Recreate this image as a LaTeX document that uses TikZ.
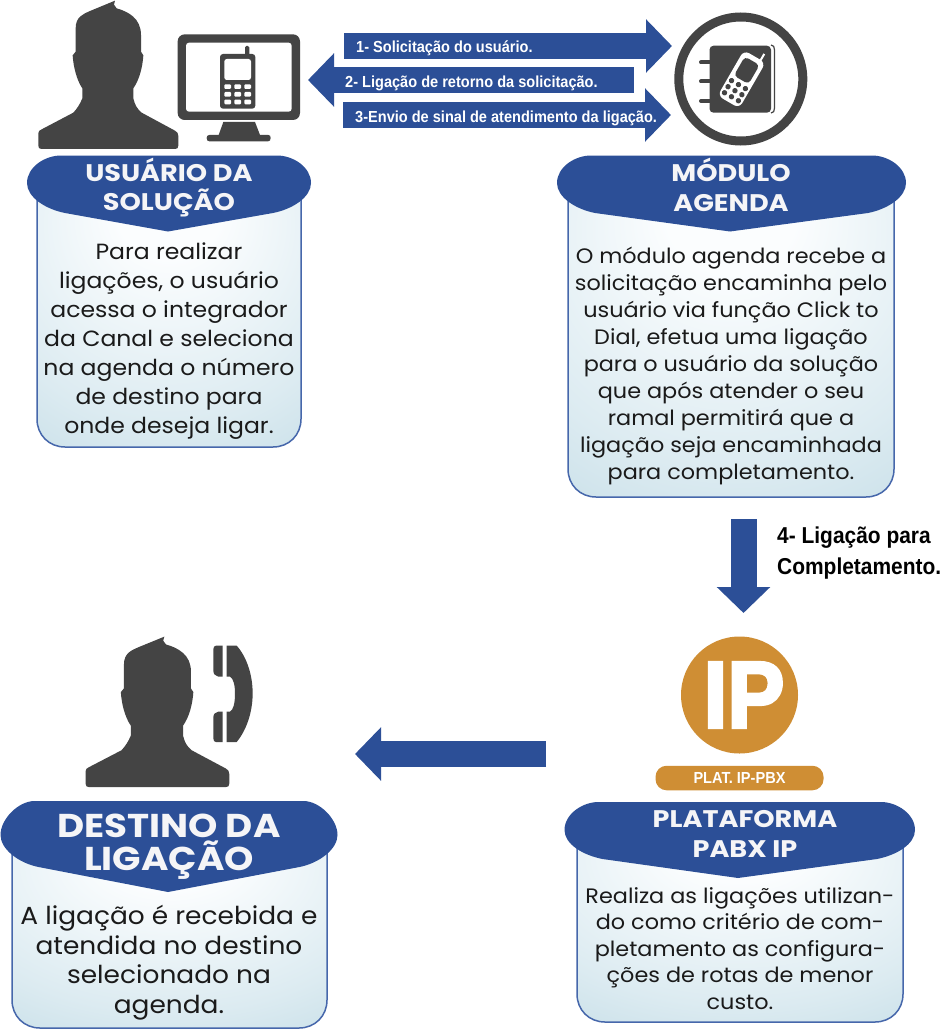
\documentclass[tikz,border=0pt]{standalone}
\usepackage{fontspec}
\usetikzlibrary{arrows.meta}
\setmainfont[FakeStretch=1.07]{Poppins}
\newfontfamily\titlefont[FakeStretch=1.13]{Poppins}
\newfontfamily\condfont[FakeStretch=0.91]{Liberation Sans Bold}
\newfontfamily\ipfont[FakeStretch=0.9,FakeBold=3]{Liberation Sans Bold}
\definecolor{hdrblue}{HTML}{2C4F97}
\definecolor{edgeblue}{HTML}{4667AB}
\definecolor{darkicon}{HTML}{444444}
\definecolor{ipgold}{HTML}{CF8E34}
\definecolor{bodytext}{HTML}{1A1A1A}
\definecolor{titlewhite}{HTML}{F5F5F7}
\definecolor{shadeA}{HTML}{FBFDFE}
\definecolor{shadeB}{HTML}{DCEBF1}
\definecolor{shadeC}{HTML}{B5D4E0}
\definecolor{shadeD}{HTML}{ABCEDC}
\pgfdeclareradialshading{panelshade}{\pgfpoint{0bp}{24bp}}{
  color(0bp)=(shadeA); color(10bp)=(shadeA);
  color(36bp)=(shadeB);
  color(62bp)=(shadeC);
  color(100bp)=(shadeD)}
\tikzset{
  bodypanel/.style={shading=panelshade,draw=edgeblue,line width=1.5pt},
  headpanel/.style={fill=hdrblue,draw=none},
  titletext/.style={text=titlewhite,align=center,inner sep=0pt,anchor=north},
  bodylabel/.style={text=bodytext,align=center,inner sep=0pt,anchor=north},
  bandlabel/.style={text=white,anchor=base west,inner sep=0pt,font=\condfont\fontsize{16}{16}\selectfont},
  blockarrow/.style={draw=hdrblue,line width=26pt,-{Triangle[length=26pt,width=52pt]},shorten >=0pt},
  icon/.style={fill=darkicon,draw=none},
  blank/.style={fill=white,draw=none}
}
\newcommand\panelbody[4]{\path[bodypanel] (#1,#3) -- (#1,#4-28) .. controls (#1,#4-12) and (#1+12,#4) .. (#1+28,#4) -- (#2-28,#4) .. controls (#2-12,#4) and (#2,#4-12) .. (#2,#4-28) -- (#2,#3) -- cycle;}
\newcommand\panelhead[7]{%
  \path[headpanel] (#1,#4) .. controls (#1,{#4-16}) and (#1+18,#3) .. (#1+34,#3)
   -- (#2-34,#3) .. controls (#2-18,#3) and (#2,{#4-16}) .. (#2,#4)
   .. controls (#2,{#4+14}) and (#2-18,#5+2) .. (#2-38,#5+6)
   -- (#6,#7) -- (#1+38,#5+6)
   .. controls (#1+18,#5+2) and (#1,{#4+14}) .. (#1,#4) -- cycle;}
\newcommand\personshape{%
  \path[icon] (285,2) -- (282,14) -- (290,25) .. controls (325,35) and (363,55) .. (363,105)
   -- (363,155) -- (370,166) .. controls (368,200) and (358,240) .. (340,265)
   -- (340,295) .. controls (345,315) and (350,325) .. (365,338)
   -- (465,392) .. controls (472,396) and (475,400) .. (475,408)
   -- (475,437) .. controls (475,444) and (472,447) .. (465,447)
   -- (65,447) .. controls (58,447) and (55,444) .. (55,437)
   -- (55,400) .. controls (55,394) and (58,391) .. (65,388)
   -- (160,338) .. controls (172,325) and (180,312) .. (187,295)
   -- (187,265) .. controls (170,240) and (160,200) .. (158,166)
   -- (167,155) -- (167,85) .. controls (167,50) and (190,42) .. (210,33) -- cycle;}
\begin{document}
\begin{tikzpicture}[x=1pt,y=-1pt]
\useasboundingbox (0,0) rectangle (943,1030);
\fill[white] (0,0) rectangle (943,1030);

% ---------- panels
\panelbody{37}{301}{190}{447}
\panelhead{27}{311}{155.5}{183}{207}{168}{231.5}
\panelbody{568}{894}{190}{497}
\panelhead{557}{906}{155.5}{183}{207}{730}{231.5}
\panelbody{12}{327}{840}{1028}
\panelhead{0.5}{337.5}{801}{835}{861}{168}{892}
\panelbody{577}{903}{830}{1022}
\panelhead{564.5}{915}{802}{830}{853}{738}{878}

% ---------- titles
\node[titletext,font=\titlefont\bfseries\fontsize{24}{29}\selectfont] (t1) at (169,158) {USUÁRIO DA\\SOLUÇÃO};
\node[titletext,font=\titlefont\bfseries\fontsize{24}{30}\selectfont] (t2) at (731,158) {MÓDULO\\AGENDA};
\node[titletext,font=\titlefont\bfseries\fontsize{33}{33}\selectfont] (t3) at (169,814) {DESTINO DA\\LIGAÇÃO};
\node[titletext,font=\titlefont\bfseries\fontsize{24}{30}\selectfont] (t4) at (745,810) {PLATAFORMA\\PABX IP};

% ---------- body text
\node[bodylabel,font=\fontsize{22}{29}\selectfont] (b1) at (169,243) {Para realizar\\ligações, o usuário\\acessa o integrador\\da Canal e seleciona\\na agenda o número\\de destino para\\onde deseja ligar.};
\node[bodylabel,font=\fontsize{20.9}{27}\selectfont] (b2) at (731,247) {O módulo agenda recebe a\\solicitação encaminha pelo\\usuário via função Click to\\Dial, efetua uma ligação\\para o usuário da solução\\que após atender o seu\\ramal permitirá que a\\ligação seja encaminhada\\para completamento.};
\node[bodylabel,font=\fontsize{24.7}{29.5}\selectfont] (b3) at (169,905) {A ligação é recebida e\\atendida no destino\\selecionado na\\agenda.};
\node[bodylabel,font=\fontsize{20.9}{26.5}\selectfont] (b4) at (740,887) {Realiza as ligações utilizan-\\do como critério de com-\\pletamento as configura-\\ções de rotas de menor\\custo.};

% ---------- block arrows
\coordinate (a1s) at (344,46); \coordinate (a1e) at (672,46);
\coordinate (a2s) at (634,80); \coordinate (a2e) at (308,80);
\coordinate (a3s) at (343,115); \coordinate (a3e) at (671,115);
\draw[blockarrow] (a1s) -- (a1e);
\draw[blockarrow] (a2s) -- (a2e);
\draw[blockarrow] (a3s) -- (a3e);
\node[bandlabel] (l1) at (356,53) {1- Solicitação do usuário.};
\node[bandlabel] (l2) at (345,88) {2- Ligação de retorno da solicitação.};
\node[bandlabel] (l3) at (355,123) {3-Envio de sinal de atendimento da ligação.};

\coordinate (a4s) at (743.5,519); \coordinate (a4e) at (743.5,613);
\coordinate (a5s) at (546,754); \coordinate (a5e) at (355,754);
\draw[blockarrow] (a4s) -- (a4e);
\draw[blockarrow] (a5s) -- (a5e);
\node[anchor=base west,inner sep=0pt,align=left,text=black,font=\condfont\fontsize{23}{31}\selectfont] (l4) at (777,574) {4- Ligação para\\Completamento.};

% ---------- user + monitor
\begin{scope}[shift={(20,0)},scale=0.33333]
  \personshape
  \path[icon,rounded corners=7pt] (473,103) rectangle (840,360);
  \path[blank,rounded corners=3pt] (498,128) rectangle (815,335);
  \path[icon] (610,366) -- (705,366) -- (720,405) -- (745,405) .. controls (750,405) and (752,408) .. (752,414) .. controls (752,421) and (749,424) .. (744,424) -- (568,424) .. controls (563,424) and (560,421) .. (560,414) .. controls (560,408) and (563,405) .. (568,405) -- (596,405) -- cycle;
  \path[icon,rounded corners=3pt] (600,162) rectangle (706,326);
  \path[icon,rounded corners=1.5pt] (675,138) rectangle (688,170);
  \path[blank,rounded corners=2.5pt] (613,177) rectangle (693,240);
  \foreach \kx in {613,643,673}
    \foreach \ky in {253,276,299}
      \path[blank,rounded corners=1pt] (\kx,\ky) rectangle ++(20,14);
\end{scope}

% ---------- agenda icon
\draw[darkicon,line width=9pt] (740.8,79) circle (62);
\path[icon,rounded corners=4pt] (709.5,45.7) rectangle (771,112.7);
\draw[darkicon,line width=1.2pt] (771,45) .. controls (773.5,45) and (774.5,47) .. (774.5,50) -- (774.5,108) .. controls (774.5,111) and (773.5,113) .. (771,113);
\foreach \ry in {62.5,81.5,101}
  \draw[darkicon,line width=4pt,line cap=round] (701,\ry) -- (712,\ry);
\begin{scope}[shift={(741.7,79)},rotate=-30]
  \draw[white,line width=2pt] (7,-25) -- (7,-33);
  \path[blank,rounded corners=6pt] (-12.5,-26) rectangle (12.5,26.5);
  \path[icon,rounded corners=4pt] (-8.5,-21) rectangle (8.5,1);
  \foreach \kx in {-8,0,8}
    \foreach \ky in {6.5,13.5,20.5}
      \fill[darkicon] (\kx,\ky) circle (2.7);
\end{scope}

% ---------- destination person + handset
\begin{scope}[shift={(66.8,636)},xscale=0.342,yscale=0.338]
  \personshape
\end{scope}
\begin{scope}[shift={(70,630)},scale=0.33333]
  \path[icon] (438,47) -- (458,47) -- (458,140) -- (445,140) .. controls (436,138) and (430,132) .. (430,122) -- (430,58) .. controls (430,51) and (433,47) .. (438,47) -- cycle;
  \path[icon] (445,245) -- (458,245) -- (458,336) -- (438,336) .. controls (433,336) and (430,332) .. (430,325) -- (430,262) .. controls (430,252) and (436,247) .. (445,245) -- cycle;
  \path[icon] (470,47) -- (500,47) .. controls (530,80) and (548,135) .. (548,190) .. controls (548,245) and (530,300) .. (500,336) -- (470,336) -- (470,245) -- (480,245) .. controls (490,240) and (495,220) .. (495,190) .. controls (495,165) and (490,145) .. (480,140) -- (470,140) -- cycle;
\end{scope}

% ---------- IP badge
\node[circle,fill=ipgold,minimum size=117pt,inner sep=0pt] (ipdisc) at (739.5,695) {};
\node[text=white,inner sep=0pt,font=\ipfont\fontsize{95}{95}\selectfont] (iptext) at (744,695) {IP};
\node[fill=ipgold,rounded corners=11pt,minimum width=168pt,minimum height=24.5pt,inner sep=0pt,text=white,font=\condfont\fontsize{16}{16}\selectfont] (ipbar) at (739.5,778) {PLAT. IP-PBX};
\end{tikzpicture}
\end{document}
